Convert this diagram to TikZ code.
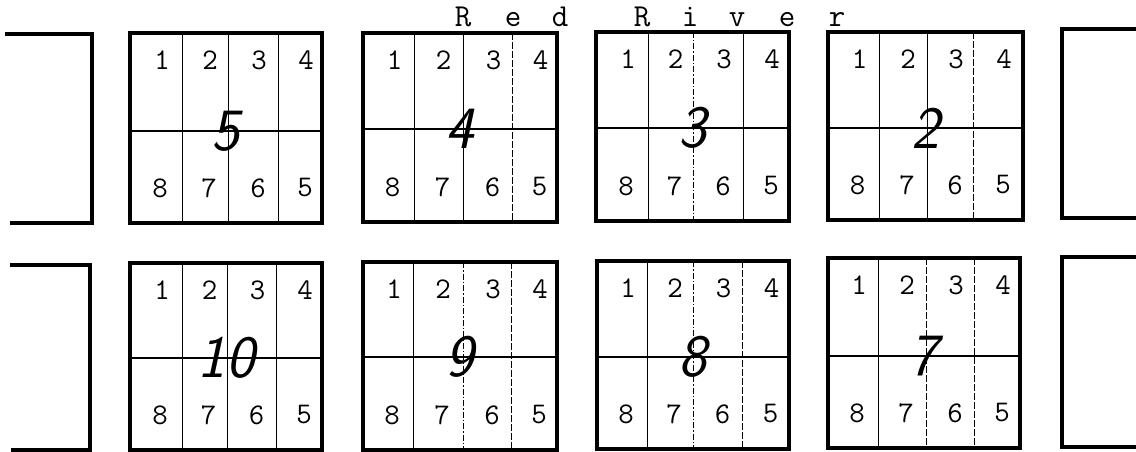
\documentclass[tikz,border=0pt]{standalone}
\usepackage{fontspec}
\begin{document}
\begin{tikzpicture}[x=1pt,y=-1pt,
  outer/.style={line width=4pt,line join=miter,line cap=rect},
  midline/.style={line width=2.6pt},
  divider/.style={line width=0.9pt},
  sol/.style={},
  dsh/.style={dash pattern=on 7pt off 2pt},
  dsd/.style={dash pattern=on 6pt off 2pt on 1.5pt off 2pt},
  dig/.style={font=\fontsize{30}{30}\selectfont\ttfamily,inner sep=0pt},
  lotnum/.style={font=\fontsize{60}{60}\selectfont\sffamily\itshape,inner sep=0pt},
  letter/.style={font=\fontsize{32}{32}\selectfont\ttfamily,anchor=base,inner sep=0pt}]
\useasboundingbox (0,0) rectangle (1136,452);

% partial blocks at the edges
\draw[outer] (7,34) -- (92,34) -- (92,223) -- (12,223);
\draw[outer] (12,265) -- (90,265) -- (90,450) -- (13,450);
\draw[outer] (1140,29) -- (1062,29) -- (1062,218) -- (1140,218);
\draw[outer] (1140,257) -- (1062,257) -- (1062,447) -- (1140,447);

\foreach \nm/\L/\T/\R/\B/\M/\A/\Bx/\C/\sa/\sb/\sc/\lab in {
  b5/130/33/322/223/131/182/228/278/sol/sol/sol/5,
  b4/363/33/557/222/129/414/463/512/sol/sol/dsh/4,
  b3/596/32/789/221/128/648/693/743/sol/dsd/sol/3,
  b2/828/32/1023/220/128/879/927/973/sol/sol/dsh/2,
  b10/130/263/322/450/358/182/227/276/sol/sol/sol/10,
  b9/363/262/557/450/357/413/463/511/sol/dsd/dsh/9,
  b8/597/261/789/449/357/647/693/742/sol/dsd/dsh/8,
  b7/828/258/1020/448/356/878/926/974/sol/dsh/dsh/7}
{
  \draw[divider,\sa] (\A,\T) -- (\A,\B);
  \draw[divider,\sb] (\Bx,\T) -- (\Bx,\B);
  \draw[divider,\sc] (\C,\T) -- (\C,\B);
  \draw[midline] (\L,\M) -- (\R,\M);
  \draw[outer] (\L,\T) rectangle (\R,\B);
  \node[dig] (\nm-1) at ({(\L+\A)/2+6},\T+27) {1};
  \node[dig] (\nm-2) at ({(\A+\Bx)/2+5},\T+27) {2};
  \node[dig] (\nm-3) at ({(\Bx+\C)/2+6},\T+27) {3};
  \node[dig] (\nm-4) at ({(\C+\R)/2+6},\T+27) {4};
  \node[dig] (\nm-8) at ({(\L+\A)/2+4},\B-35) {8};
  \node[dig] (\nm-7) at ({(\A+\Bx)/2+4},\B-35) {7};
  \node[dig] (\nm-6) at ({(\Bx+\C)/2+5},\B-35) {6};
  \node[dig] (\nm-5) at ({(\C+\R)/2+5},\B-35) {5};
  \node[lotnum] (\nm-lab) at ({(\L+\R)/2},\M) {\lab};
}

% Red River
\node[letter] (t1) at (463,27) {R};
\node[letter] (t2) at (513,27) {e};
\node[letter] (t3) at (560,27) {d};
\node[letter] (t4) at (642,27) {R};
\node[letter] (t5) at (690,27) {i};
\node[letter] (t6) at (737,27) {v};
\node[letter] (t7) at (787,27) {e};
\node[letter] (t8) at (837,27) {r};
\end{tikzpicture}
\end{document}
